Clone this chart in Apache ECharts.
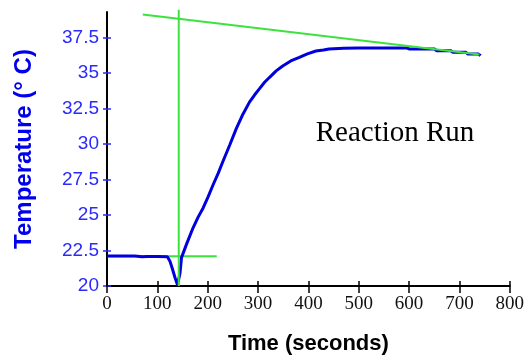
<!DOCTYPE html>
<html>
<head>
<meta charset="utf-8">
<script src="https://cdn.jsdelivr.net/npm/echarts@6/dist/echarts.min.js"></script>
<style>
  html, body { margin: 0; padding: 0; background: #fff; }
  #main { width: 527px; height: 360px; }
</style>
</head>
<body>
<div id="main"></div>
<script>
// temperature run
const times = [0, 20, 40, 55, 58, 70, 80, 100, 120, 125, 130, 135, 140, 145, 148, 158, 171, 181, 191, 201, 211, 221, 230, 244, 257, 270, 283, 293, 303, 313, 323, 336, 349, 365, 382, 398, 415, 430, 441, 470, 500, 530, 560, 596, 600, 651, 655, 683, 687, 713, 717, 738, 742];
const temps = [22.12, 22.12, 22.12, 22.12, 22.04, 22.06, 22.08, 22.08, 22.06, 21.75, 21.2, 20.6, 20.08, 20.9, 22.0, 22.95, 24.1, 24.85, 25.5, 26.3, 27.15, 27.95, 28.75, 29.95, 31.1, 32.1, 32.95, 33.45, 33.9, 34.35, 34.7, 35.15, 35.5, 35.85, 36.1, 36.35, 36.55, 36.62, 36.7, 36.74, 36.76, 36.76, 36.76, 36.76, 36.7, 36.69, 36.57, 36.57, 36.46, 36.46, 36.34, 36.34, 36.22];

// green construction lines
const tangentLine = [[71, 39.13], [740, 36.3]];
const verticalLine = [[142.5, 20], [142.5, 39.45]];
const baseLine = [[0, 22.09], [218, 22.09]];

const yTicks = [20, 22.5, 25, 27.5, 30, 32.5, 35, 37.5];

const chartDom = document.getElementById("main");
const myChart = echarts.init(chartDom);

const blue = "#0000dd";
const green = "#3de33d";

const option = {
  animation: false,
  grid: { left: 107, right: 16, top: 12, bottom: 72 },
  graphic: [
    {
      type: "text",
      style: {
        text: "Reaction Run",
        x: 395,
        y: 133,
        textAlign: "center",
        textVerticalAlign: "middle",
        font: "29px 'Liberation Serif'",
        fill: "#000",
      },
    },
  ],
  xAxis: [
    {
      type: "value",
      min: 0,
      max: 800,
      interval: 100,
      name: "Time (seconds)",
      nameLocation: "middle",
      nameGap: 47,
      nameTextStyle: {
        fontFamily: "Liberation Sans",
        fontWeight: "bold",
        fontSize: 22,
        color: "#000",
      },
      axisLine: { lineStyle: { color: "#000", width: 2 } },
      axisTick: { length: 7, lineStyle: { color: "#000", width: 1.5 } },
      axisLabel: {
        margin: 9,
        fontFamily: "Liberation Sans Narrow",
        fontSize: 19,
        color: "#111",
      },
      splitLine: { show: false },
    },
    {
      // inner half of the crossing ticks
      type: "value",
      min: 0,
      max: 800,
      interval: 100,
      position: "bottom",
      axisLine: { show: false },
      axisTick: { inside: true, length: 5, lineStyle: { color: "#000", width: 1.5 } },
      axisLabel: { show: false },
      splitLine: { show: false },
    },
  ],
  yAxis: [
    {
      type: "value",
      min: 20,
      max: 39.3,
      name: "Temperature (° C)",
      nameLocation: "middle",
      nameRotate: 90,
      nameGap: 71,
      nameTextStyle: {
        fontFamily: "Liberation Sans",
        fontWeight: "bold",
        fontSize: 24,
        color: "#0000ee",
      },
      axisLine: { show: true, lineStyle: { color: "#000", width: 2 } },
      axisTick: {
        show: true,
        length: 4,
        customValues: yTicks,
        lineStyle: { color: "#2a2aff", width: 1.5 },
      },
      axisLabel: {
        margin: 8,
        customValues: yTicks,
        fontFamily: "Liberation Sans",
        fontSize: 19,
        color: "#2a2aff",
      },
      splitLine: { show: false },
    },
    {
      type: "value",
      min: 20,
      max: 39.3,
      position: "left",
      axisLine: { show: false },
      axisTick: {
        show: true,
        inside: true,
        length: 4,
        customValues: yTicks,
        lineStyle: { color: "#2a2aff", width: 1.5 },
      },
      axisLabel: { show: false },
      splitLine: { show: false },
    },
  ],
  series: [
    {
      type: "line",
      data: tangentLine,
      showSymbol: false,
      silent: true,
      clip: false,
      lineStyle: { color: green, width: 2 },
      z: 3,
    },
    {
      type: "line",
      data: verticalLine,
      showSymbol: false,
      silent: true,
      clip: false,
      lineStyle: { color: green, width: 2 },
      z: 3,
    },
    {
      type: "line",
      data: baseLine,
      showSymbol: false,
      silent: true,
      lineStyle: { color: green, width: 2 },
      z: 1,
    },
    {
      type: "line",
      data: times.map((t, i) => [t, temps[i]]),
      showSymbol: false,
      lineStyle: { color: blue, width: 3 },
      z: 2,
    },
  ],
};

option && myChart.setOption(option);
</script>
</body>
</html>
